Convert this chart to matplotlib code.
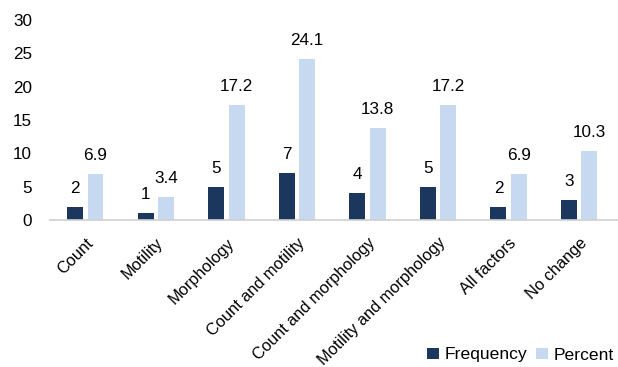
import matplotlib
matplotlib.use("Agg")
import matplotlib.pyplot as plt
import numpy as np

categories = ["Count", "Motility", "Morphology", "Count and motility",
              "Count and morphology", "Motility and morphology", "All factors", "No change"]
frequency = [2, 1, 5, 7, 4, 5, 2, 3]
percent = [6.9, 3.4, 17.2, 24.1, 13.8, 17.2, 6.9, 10.3]
yticks = [0, 5, 10, 15, 20, 25, 30]

plt.rcParams['font.family'] = ['Liberation Sans', 'DejaVu Sans']

fig = plt.figure(figsize=(6.18, 3.67), dpi=100)
ax = fig.add_axes([50/618, 147/367, 568/618, 200/367])

x = np.arange(len(categories))
w = 0.225
dark = "#1b375e"
light = "#c6d9f0"
b1 = ax.bar(x - 0.145, frequency, width=w, color=dark, label="Frequency")
b2 = ax.bar(x + 0.145, percent, width=w, color=light, label="Percent")

for bars, vals in ((b1, frequency), (b2, percent)):
    for r, v in zip(bars, vals):
        ax.annotate(f"{v:g}", (r.get_x() + r.get_width()/2, r.get_height()),
                    xytext=(0, 8), textcoords="offset points",
                    ha="center", va="bottom", fontsize=12.3, color="#000000")

ax.set_xlim(-0.5, len(categories) - 0.45)
ax.set_ylim(0, 30)
ax.set_yticks(yticks)
ax.tick_params(axis="y", length=0, labelsize=12.3, pad=13)
ax.tick_params(axis="x", length=0, pad=11)
ax.set_xticks(x)
ax.set_xticklabels(categories, rotation=45, ha="right", rotation_mode="anchor", fontsize=11.8)
for s in ("top", "right", "left"):
    ax.spines[s].set_visible(False)
ax.spines["bottom"].set_color("#d0d0d0")
ax.spines["bottom"].set_linewidth(1.2)

fig.legend(handles=[b1, b2], labels=["Frequency", "Percent"], loc="center right",
           bbox_to_anchor=(1.005, 12/367), ncol=2, frameon=False, fontsize=12.6,
           handlelength=0.65, handleheight=0.65, handletextpad=0.35, columnspacing=0.5,
           borderaxespad=0.0)

fig.savefig("out.png", dpi=100)
